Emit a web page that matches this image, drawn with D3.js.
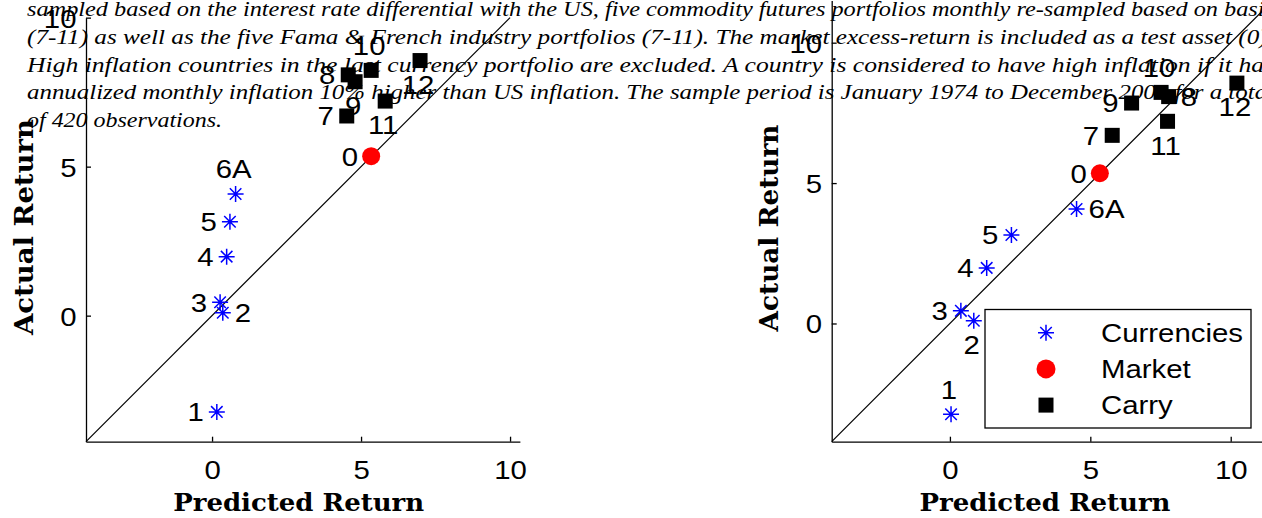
<!DOCTYPE html>
<html>
<head>
<meta charset="utf-8">
<script src="https://cdn.jsdelivr.net/npm/d3@7"></script>
<style>
  html, body { margin: 0; padding: 0; background: #fff; }
  svg { display: block; }
</style>
</head>
<body>
<svg id="chart" width="1262" height="518"></svg>
<script>
// Mean annual excess returns (%) of the test assets
const currencyLabels    = ["1", "2", "3", "4", "5", "6A"];
const currencyActual    = [-3.23, 0.10, 0.45, 1.98, 3.15, 4.08];
const currencyPredLeft  = [0.16, 0.36, 0.27, 0.49, 0.60, 0.79];
const currencyPredRight = [0.04, 0.85, 0.39, 1.31, 2.19, 4.51];

const marketLabels    = ["0"];
const marketActual    = [5.35];
const marketPredLeft  = [5.34];
const marketPredRight = [5.34];

const carryLabels    = ["7", "8", "9", "10", "11", "12"];
const carryActual    = [6.70, 8.08, 7.85, 8.23, 7.20, 8.56];
const carryPredLeft  = [4.52, 4.57, 4.80, 5.34, 5.81, 6.98];
const carryPredRight = [5.78, 7.79, 6.47, 7.52, 7.75, 10.22];

const tickValues   = [0, 5, 10];
const legendLabels = ["Currencies", "Market", "Carry"];
const xTitle = "Predicted Return";
const yTitle = "Actual Return";

const captionLines = [
  "sampled based on the interest rate differential with the US, five commodity futures portfolios monthly re-sampled based on basis",
  "(7-11) as well as the five Fama & French industry portfolios (7-11). The market excess-return is included as a test asset (0).",
  "High inflation countries in the last currency portfolio are excluded. A country is considered to have high inflation if it has",
  "annualized monthly inflation 10% higher than US inflation. The sample period is January 1974 to December 2008 for a total",
  "of 420 observations."
];

// ---- styling ----
const SANS = "'Liberation Sans', Arial, Helvetica, sans-serif";
const SX = 1.13;               // horizontal widening of the sans text
const FS = 26;                 // sans font size
const BLUE = "#0000ff", RED = "#ff0000", BLACK = "#000";

const svg = d3.select("#chart");
svg.append("rect").attr("width", 1262).attr("height", 518).attr("fill", "#fff");

// ---- caption paragraph (sits behind the plots) ----
const caption = svg.append("g")
  .attr("font-family", "'Liberation Serif', 'Times New Roman', serif")
  .attr("font-style", "italic")
  .attr("font-size", 20)
  .attr("fill", BLACK);
caption.selectAll("text")
  .data(captionLines)
  .join("text")
  .attr("x", 27)
  .attr("y", (d, i) => 16 + i * 27.8)
  .attr("textLength", (d, i) => i < captionLines.length - 1 ? 1247 : 195)
  .attr("lengthAdjust", "spacingAndGlyphs")
  .text(d => d);

// ---- helpers ----
function starPath(cx, cy, r) {
  const d = r * 0.72;
  const p = d3.path();
  p.moveTo(cx - r, cy); p.lineTo(cx + r, cy);
  p.moveTo(cx, cy - r); p.lineTo(cx, cy + r);
  p.moveTo(cx - d, cy - d); p.lineTo(cx + d, cy + d);
  p.moveTo(cx - d, cy + d); p.lineTo(cx + d, cy - d);
  return p.toString();
}

function sansText(g, x, y, str, anchor) {
  return g.append("text")
    .attr("transform", `translate(${x},${y}) scale(${SX},1)`)
    .attr("dy", "0.36em")
    .attr("text-anchor", anchor)
    .attr("font-family", SANS)
    .attr("font-size", FS)
    .attr("fill", BLACK)
    .text(str);
}

function pointLabel(g, px, py, str, place) {
  if (place === "L") return sansText(g, px - 13, py, str, "end");
  if (place === "R") return sansText(g, px + 12, py, str, "start");
  if (place === "A") return sansText(g, px - 2, py - 25, str, "middle");
  return sansText(g, px - 2, py + 24, str, "middle");
}

// ---- one scatter panel ----
function drawPanel(cfg) {
  const g = svg.append("g");
  const x = d3.scaleLinear().domain(cfg.xDomain)
    .range([cfg.left, cfg.left + (cfg.xDomain[1] - cfg.xDomain[0]) * cfg.k]);
  const y = d3.scaleLinear().domain(cfg.yDomain)
    .range([cfg.bottom, cfg.bottom - (cfg.yDomain[1] - cfg.yDomain[0]) * cfg.k]);

  // axes (inward ticks, no box)
  const xAxis = g.append("g")
    .attr("transform", `translate(0,${cfg.bottom})`)
    .call(d3.axisBottom(x).tickValues(tickValues).tickSizeInner(-5).tickSizeOuter(0).tickFormat(d3.format("d")));
  const yAxis = g.append("g")
    .attr("transform", `translate(${cfg.left},0)`)
    .call(d3.axisLeft(y).tickValues(tickValues).tickSizeInner(-5).tickSizeOuter(0).tickFormat(d3.format("d")));
  [xAxis, yAxis].forEach(a => {
    a.select(".domain").attr("stroke", BLACK).attr("stroke-width", 1.3);
    a.selectAll(".tick line").attr("stroke", BLACK).attr("stroke-width", 1.3);
    a.selectAll(".tick text")
      .attr("font-family", SANS).attr("font-size", FS).attr("fill", BLACK)
      .attr("x", null).attr("y", null).attr("dy", "0.36em");
  });
  xAxis.selectAll(".tick text").attr("text-anchor", "middle")
    .attr("transform", `translate(0,27.5) scale(${SX},1)`);
  yAxis.selectAll(".tick text").attr("text-anchor", "end")
    .attr("transform", `translate(-9.5,0) scale(${SX},1)`);

  // 45-degree line
  const lo = Math.max(cfg.xDomain[0], cfg.yDomain[0]);
  const hi = Math.min(cfg.xDomain[1], cfg.yDomain[1]);
  g.append("path")
    .datum([lo, hi])
    .attr("d", d3.line().x(d => x(d)).y(d => y(d)))
    .attr("fill", "none").attr("stroke", BLACK).attr("stroke-width", 1.2);

  // currencies
  const cur = currencyLabels.map((l, i) => ({ l, px: cfg.curPred[i], a: currencyActual[i], p: cfg.curPlace[i] }));
  g.append("g").selectAll("path").data(cur).join("path")
    .attr("d", d => starPath(x(d.px), y(d.a), 8))
    .attr("stroke", BLUE).attr("stroke-width", 1.5).attr("fill", "none");
  cur.forEach(d => pointLabel(g, x(d.px), y(d.a), d.l, d.p));

  // market
  const mkt = marketLabels.map((l, i) => ({ l, px: cfg.mktPred[i], a: marketActual[i], p: cfg.mktPlace[i] }));
  g.append("g").selectAll("circle").data(mkt).join("circle")
    .attr("cx", d => x(d.px)).attr("cy", d => y(d.a)).attr("r", 9)
    .attr("fill", RED);
  mkt.forEach(d => pointLabel(g, x(d.px), y(d.a), d.l, d.p));

  // carry portfolios
  const car = carryLabels.map((l, i) => ({ l, px: cfg.carPred[i], a: carryActual[i], p: cfg.carPlace[i] }));
  g.append("g").selectAll("rect").data(car).join("rect")
    .attr("x", d => x(d.px) - 7.5).attr("y", d => y(d.a) - 7.5)
    .attr("width", 15).attr("height", 15).attr("fill", BLACK);
  car.forEach(d => pointLabel(g, x(d.px), y(d.a), d.l, d.p));

  // axis titles
  g.append("text")
    .attr("x", cfg.xTitleX).attr("y", 511)
    .attr("text-anchor", "middle")
    .attr("font-family", "'DejaVu Serif', serif").attr("font-weight", "bold")
    .attr("font-size", 24).attr("fill", BLACK)
    .attr("textLength", 251).attr("lengthAdjust", "spacingAndGlyphs")
    .text(xTitle);
  g.append("text")
    .attr("transform", `translate(${cfg.yTitleX},${cfg.yTitleY}) rotate(-90)`)
    .attr("text-anchor", "middle")
    .attr("font-family", "'DejaVu Serif', serif").attr("font-weight", "bold")
    .attr("font-size", 26).attr("fill", BLACK)
    .attr("textLength", cfg.yTitleLen).attr("lengthAdjust", "spacingAndGlyphs")
    .text(yTitle);

  return { g, x, y };
}

drawPanel({
  left: 86, bottom: 441.7, k: 29.8,
  xDomain: [-4.23, 10.33], yDomain: [-4.23, 10],
  curPred: currencyPredLeft, mktPred: marketPredLeft, carPred: carryPredLeft,
  curPlace: ["L", "R", "L", "L", "L", "A"],
  mktPlace: ["L"],
  carPlace: ["L", "L", "B", "A", "B", "B"],
  xTitleX: 298.7, yTitleX: 33, yTitleY: 227, yTitleLen: 216
});

const right = drawPanel({
  left: 831.7, bottom: 441.7, k: 28.08,
  xDomain: [-4.21, 11.15], yDomain: [-4.21, 11.5],
  curPred: currencyPredRight, mktPred: marketPredRight, carPred: carryPredRight,
  curPlace: ["A", "B", "L", "L", "L", "R"],
  mktPlace: ["L"],
  carPlace: ["L", "R", "L", "A", "B", "B"],
  xTitleX: 1045, yTitleX: 778, yTitleY: 228, yTitleLen: 207
});

// ---- legend (right panel) ----
const lg = right.g.append("g");
lg.append("rect")
  .attr("x", 985).attr("y", 309.5).attr("width", 266).attr("height", 118.5)
  .attr("fill", "#fff").attr("stroke", BLACK).attr("stroke-width", 1.3);
const rows = legendLabels.map((l, i) => ({ l, i, y: 332.7 + i * 36.2 }));
rows.forEach(r => {
  if (r.i === 0) {
    lg.append("path").attr("d", starPath(1046, r.y, 8))
      .attr("stroke", BLUE).attr("stroke-width", 1.5).attr("fill", "none");
  } else if (r.i === 1) {
    lg.append("circle").attr("cx", 1046).attr("cy", r.y).attr("r", 9.5).attr("fill", RED);
  } else {
    lg.append("rect").attr("x", 1046 - 7.5).attr("y", r.y - 7.5)
      .attr("width", 15).attr("height", 15).attr("fill", BLACK);
  }
  sansText(lg, 1101, r.y, r.l, "start");
});
</script>
</body>
</html>
